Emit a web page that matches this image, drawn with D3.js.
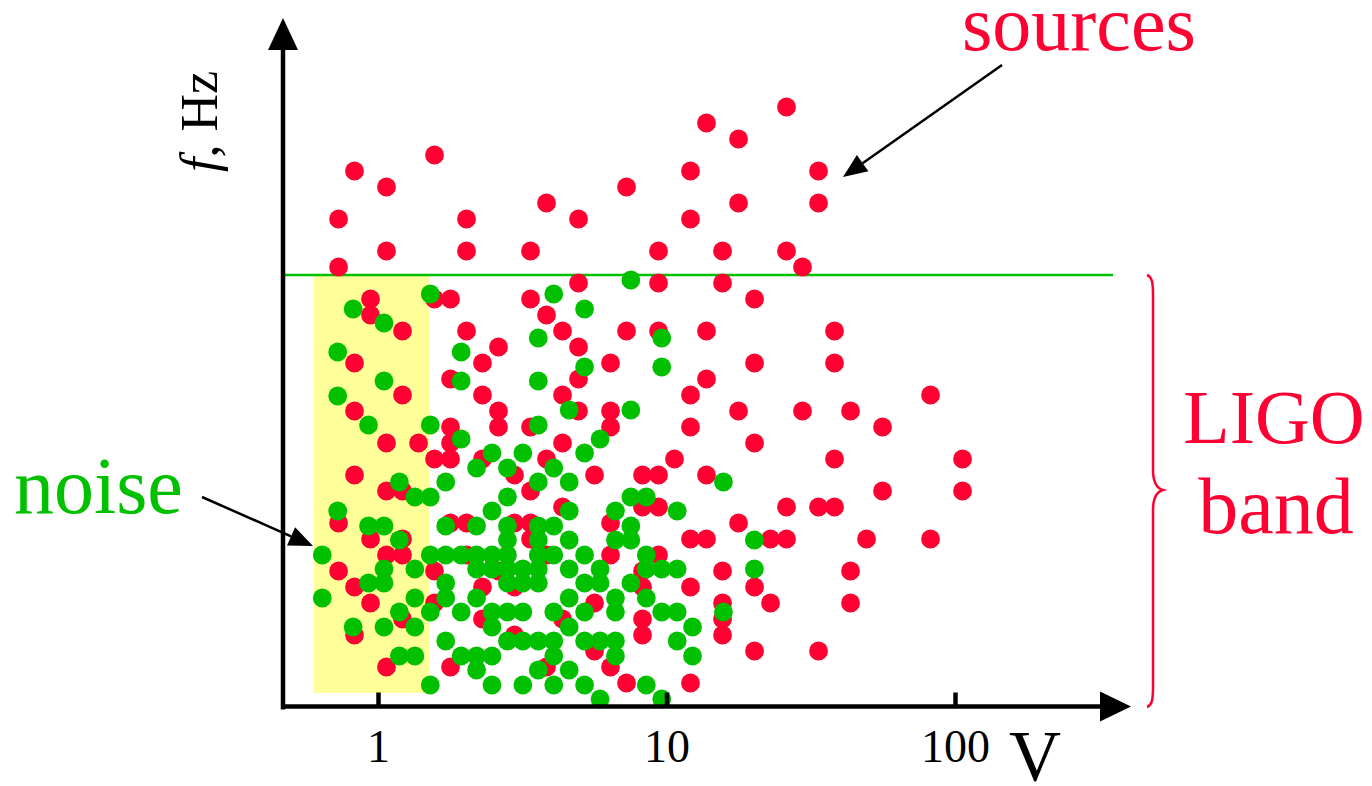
<!DOCTYPE html>
<html>
<head>
<meta charset="utf-8">
<script src="https://cdn.jsdelivr.net/npm/d3@7"></script>
<style>
  html, body { margin: 0; padding: 0; background: #fff; }
  svg { display: block; }
  text { font-family: "Liberation Serif", "Times New Roman", serif; }
</style>
</head>
<body>
<svg id="chart" width="1372" height="786"></svg>
<script>
// ---- data (V on a log axis, f in Hz) ----
const xTicks = [1, 10, 100];
const xTickLabels = ["1", "10", "100"];

// red points: gravitational-wave sources [V, f]
const sources = [
  [0.730,489],[0.730,441],[0.730,185],[0.730,137],
  [0.829,537],[0.829,345],[0.829,297],[0.829,233],[0.829,121],[0.829,73],
  [0.942,409],[0.942,393],[0.942,169],[0.942,105],
  [1.070,521],[1.070,457],[1.070,265],[1.070,217],[1.070,153],[1.070,41],
  [1.216,377],[1.216,313],[1.216,217],[1.216,169],[1.216,153],[1.216,89],
  [1.382,265],
  [1.570,553],[1.570,409],[1.570,249],[1.570,137],[1.570,105],
  [1.784,409],[1.784,329],[1.784,281],[1.784,265],[1.784,249],[1.784,185],[1.784,41],
  [2.027,489],[2.027,457],[2.027,377],[2.027,185],[2.027,153],
  [2.302,345],[2.302,313],[2.302,249],[2.302,121],[2.302,89],
  [2.616,361],[2.616,297],[2.616,281],[2.616,137],
  [2.973,233],[2.973,185],[2.973,121],[2.973,73],
  [3.378,457],[3.378,409],[3.378,281],[3.378,217],[3.378,185],[3.378,169],
  [3.838,505],[3.838,393],[3.838,249],[3.838,153],[3.838,41],
  [4.361,377],[4.361,313],[4.361,265],[4.361,201],[4.361,89],
  [4.955,489],[4.955,425],[4.955,361],[4.955,329],[4.955,297],
  [5.630,233],[5.630,105],[5.630,57],
  [6.397,345],[6.397,297],[6.397,281],[6.397,185],[6.397,153],[6.397,41],
  [7.268,521],[7.268,377],[7.268,25],
  [8.258,233],[8.258,201],[8.258,137],[8.258,121],[8.258,89],[8.258,73],
  [9.383,457],[9.383,425],[9.383,377],[9.383,233],[9.383,201],[9.383,153],
  [10.66,249],
  [12.11,537],[12.11,489],[12.11,313],[12.11,281],[12.11,169],[12.11,121],[12.11,25],
  [13.76,585],[13.76,377],[13.76,329],[13.76,233],[13.76,169],
  [15.64,457],[15.64,425],[15.64,137],[15.64,105],[15.64,89],[15.64,73],
  [17.77,569],[17.77,505],[17.77,297],[17.77,185],
  [20.19,409],[20.19,345],[20.19,265],[20.19,121],[20.19,57],
  [22.94,169],[22.94,105],
  [26.06,601],[26.06,457],[26.06,201],[26.06,169],
  [29.61,441],[29.61,297],
  [33.65,537],[33.65,505],[33.65,201],[33.65,57],
  [38.23,377],[38.23,345],[38.23,249],[38.23,201],
  [43.44,297],[43.44,137],[43.44,105],
  [49.36,169],
  [56.08,281],[56.08,217],
  [82.26,313],[82.26,169],
  [106.2,249],[106.2,217]
];

// green points: detector noise [V, f]
const noise = [
  [0.641,153],[0.641,110],
  [0.725,356],[0.725,312],[0.725,197],
  [0.820,399],[0.820,81],
  [0.927,283],[0.927,182],[0.927,125],
  [1.049,385],[1.049,327],[1.049,182],[1.049,139],[1.049,125],[1.049,81],
  [1.186,226],[1.186,168],[1.186,96],[1.186,52],
  [1.342,211],[1.342,139],[1.342,110],[1.342,81],[1.342,52],
  [1.518,414],[1.518,283],[1.518,211],[1.518,153],[1.518,96],[1.518,23],
  [1.717,226],[1.717,182],[1.717,153],[1.717,125],[1.717,110],[1.717,67],
  [1.942,356],[1.942,327],[1.942,269],[1.942,153],[1.942,96],[1.942,52],
  [2.196,240],[2.196,182],[2.196,153],[2.196,139],[2.196,110],[2.196,52],[2.196,38],
  [2.484,255],[2.484,197],[2.484,153],[2.484,139],[2.484,96],[2.484,81],[2.484,52],[2.484,23],
  [2.810,240],[2.810,211],[2.810,182],[2.810,168],[2.810,153],[2.810,139],[2.810,125],[2.810,96],[2.810,67],
  [3.178,255],[3.178,139],[3.178,125],[3.178,96],[3.178,67],[3.178,23],
  [3.594,370],[3.594,327],[3.594,283],[3.594,226],[3.594,182],[3.594,168],[3.594,153],[3.594,139],[3.594,125],[3.594,67],[3.594,38],
  [4.066,414],[4.066,240],[4.066,182],[4.066,153],[4.066,96],[4.066,67],[4.066,52],[4.066,23],
  [4.599,298],[4.599,226],[4.599,197],[4.599,168],[4.599,139],[4.599,110],[4.599,81],[4.599,38],
  [5.200,399],[5.200,341],[5.200,255],[5.200,153],[5.200,125],[5.200,96],[5.200,67],[5.200,23],
  [5.883,269],[5.883,139],[5.883,125],[5.883,67],[5.883,9],
  [6.653,197],[6.653,168],[6.653,110],[6.653,96],[6.653,67],[6.653,52],
  [7.524,428],[7.524,298],[7.524,211],[7.524,182],[7.524,168],[7.524,125],
  [8.511,211],[8.511,153],[8.511,139],[8.511,110],[8.511,23],
  [9.627,370],[9.627,341],[9.627,139],[9.627,96],[9.627,9],
  [10.89,197],[10.89,139],[10.89,96],[10.89,67],
  [12.31,81],[12.31,52],
  [15.75,226],[15.75,96],
  [20.16,168],[20.16,139]
];

// LIGO band: upper frequency edge and the noise-dominated V range
const bandTopF = 433;
const noiseBandV = [0.60, 1.51];
const noiseBandF = [15, 433];

// ---- drawing ----
const RED = "#ff0033", GREEN = "#00c000", YELLOW = "#ffff99";
const svg = d3.select("#chart");

const x = d3.scaleLog().domain([1, 100]).range([378, 955]);
const y = d3.scaleLinear().domain([0, 700]).range([708, 8]);

const axisX0 = 283, axisY0 = 706.5;
const xEnd = x.invert(1104);   // where the arrow shaft ends
const yEnd = 700 - 38;         // top of y-axis shaft in f units

// yellow noise region
svg.append("rect")
  .attr("x", x(noiseBandV[0])).attr("y", y(noiseBandF[1]))
  .attr("width", x(noiseBandV[1]) - x(noiseBandV[0]))
  .attr("height", y(noiseBandF[0]) - y(noiseBandF[1]))
  .attr("fill", YELLOW);

// LIGO upper band line
svg.append("line")
  .attr("x1", axisX0).attr("x2", 1113)
  .attr("y1", y(bandTopF)).attr("y2", y(bandTopF))
  .attr("stroke", GREEN).attr("stroke-width", 2.5);

// points
const R = 9.4;
svg.append("g").selectAll("circle").data(sources).join("circle")
  .attr("cx", d => x(d[0])).attr("cy", d => y(d[1])).attr("r", R).attr("fill", RED);
svg.append("g").selectAll("circle").data(noise).join("circle")
  .attr("cx", d => x(d[0])).attr("cy", d => y(d[1])).attr("r", R).attr("fill", GREEN);

// axes
const ax = d3.axisBottom(x).tickValues(xTicks)
  .tickFormat((d, i) => xTickLabels[i])
  .tickSizeInner(-14).tickSizeOuter(0).tickPadding(23);
const gx = svg.append("g").attr("transform", `translate(0,${axisY0})`).call(ax);
gx.select(".domain").remove();
gx.selectAll(".tick line").attr("stroke", "#000").attr("stroke-width", 4.5);
gx.selectAll(".tick text").attr("font-size", 46).attr("fill", "#000")
  .style("font-family", '"Liberation Serif", serif');

// axis shafts
svg.append("line").attr("x1", axisX0 - 2).attr("x2", x(xEnd))
  .attr("y1", axisY0).attr("y2", axisY0).attr("stroke", "#000").attr("stroke-width", 4.5);
svg.append("line").attr("x1", axisX0).attr("x2", axisX0)
  .attr("y1", axisY0 + 3).attr("y2", y(yEnd)).attr("stroke", "#000").attr("stroke-width", 4.5);
// arrowheads
svg.append("path").attr("fill", "#000")
  .attr("d", `M${x(xEnd) - 4},${axisY0 - 15} L${x(xEnd) + 27},${axisY0} L${x(xEnd) - 4},${axisY0 + 15} Z`);
svg.append("path").attr("fill", "#000")
  .attr("d", `M${axisX0 - 15},${y(yEnd) + 4} L${axisX0},${y(yEnd) - 28} L${axisX0 + 15},${y(yEnd) + 4} Z`);

// axis titles
svg.append("text").attr("x", 1035).attr("y", 780).attr("text-anchor", "middle")
  .attr("font-size", 72).attr("fill", "#000").text("V");
const fl = svg.append("text").attr("transform", "translate(217,172) rotate(-90)")
  .attr("font-size", 52).attr("fill", "#000");
fl.append("tspan").attr("font-style", "italic").text("f");
fl.append("tspan").text(", Hz");

// annotations
function arrow(x1, y1, x2, y2) {
  const a = Math.atan2(y2 - y1, x2 - x1), L = 24, W = 10;
  const bx = x2 - L * Math.cos(a), by = y2 - L * Math.sin(a);
  svg.append("line").attr("x1", x1).attr("y1", y1).attr("x2", bx).attr("y2", by)
    .attr("stroke", "#000").attr("stroke-width", 2.5);
  svg.append("path").attr("fill", "#000").attr("d",
    `M${x2},${y2} L${bx + W * Math.sin(a)},${by - W * Math.cos(a)} L${bx - W * Math.sin(a)},${by + W * Math.cos(a)} Z`);
}
svg.append("text").attr("x", 962).attr("y", 50).attr("font-size", 78).attr("fill", RED).text("sources");
arrow(1002, 65, 843, 177);
svg.append("text").attr("x", 14).attr("y", 513).attr("font-size", 80).attr("fill", GREEN).text("noise");
arrow(202, 497, 313, 546);

// brace for LIGO band
svg.append("path").attr("fill", "none").attr("stroke", RED).attr("stroke-width", 2.5)
  .attr("d", "M1147,275 C1152,277 1153,282 1153,295 L1153,470 C1153,482 1156,488 1163,490 C1156,492 1153,498 1153,510 L1153,687 C1153,700 1152,705 1147,707");
svg.append("text").attr("x", 1274).attr("y", 443).attr("text-anchor", "middle")
  .attr("font-size", 76).attr("fill", RED).text("LIGO");
svg.append("text").attr("x", 1276).attr("y", 533).attr("text-anchor", "middle")
  .attr("font-size", 80).attr("fill", RED).text("band");
</script>
</body>
</html>
